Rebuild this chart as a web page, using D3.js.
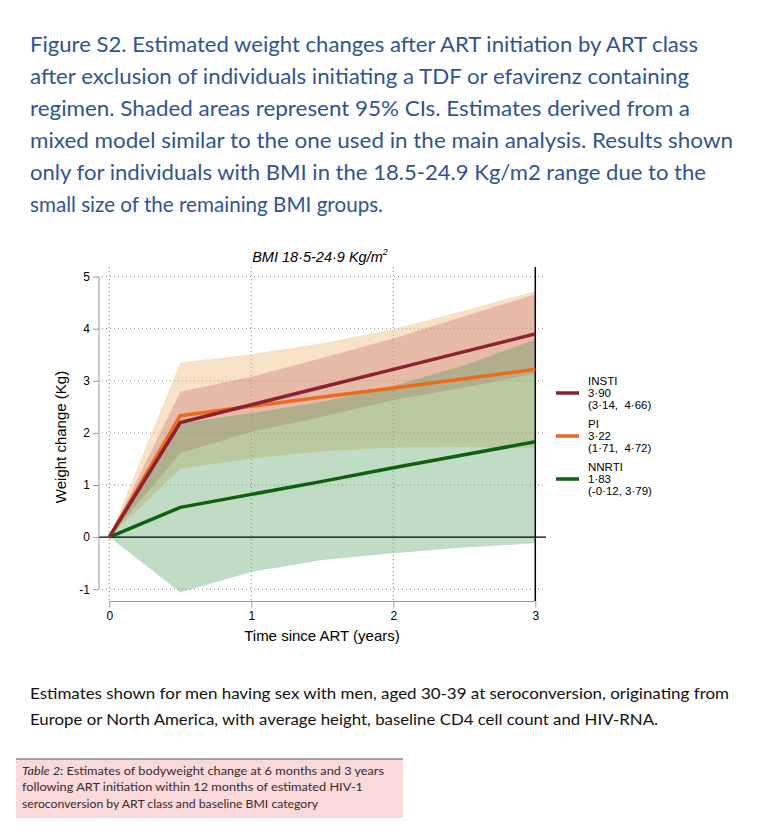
<!DOCTYPE html>
<html><head><meta charset="utf-8">
<script src="https://cdn.jsdelivr.net/npm/d3@7"></script>
<style>body{margin:0;background:#fff}svg{display:block}</style>
</head><body>
<svg id="c" width="760" height="832"></svg>
<script>
const times = [0, 0.5, 1, 1.5, 2, 2.5, 3];
const classes = ["INSTI", "PI", "NNRTI"];
const instiEst = [0, 2.20, 2.54, 2.88, 3.22, 3.56, 3.90];
const instiLo  = [0, 1.61, 2.02, 2.31, 2.63, 2.87, 3.14];
const instiHi  = [0, 2.79, 3.08, 3.44, 3.81, 4.24, 4.66];
const piEst = [0, 2.33, 2.51, 2.69, 2.86, 3.04, 3.22];
const piLo  = [0, 1.31, 1.51, 1.65, 1.72, 1.73, 1.71];
const piHi  = [0, 3.35, 3.51, 3.72, 3.99, 4.35, 4.72];
const nnrtiEst = [0, 0.57, 0.82, 1.07, 1.33, 1.58, 1.83];
const nnrtiLo  = [0, -1.06, -0.67, -0.44, -0.31, -0.20, -0.12];
const nnrtiHi  = [0, 2.18, 2.38, 2.60, 2.90, 3.30, 3.79];
const legendVals = ["3·90", "3·22", "1·83"];
const legendCIs = ["(3·14,  4·66)", "(1·71,  4·72)", "(-0·12, 3·79)"];
const yTicks = [-1, 0, 1, 2, 3, 4, 5];
const xTicks = [0, 1, 2, 3];
const titleLines = [
  "Figure S2. Estimated weight changes after ART initiation by ART class",
  "after exclusion of individuals initiating a TDF or efavirenz containing",
  "regimen. Shaded areas represent 95% CIs. Estimates derived from a",
  "mixed model similar to the one used in the main analysis. Results shown",
  "only for individuals with BMI in the 18.5-24.9 Kg/m2 range due to the",
  "small size of the remaining BMI groups."
];
const footLines = [
  "Estimates shown for men having sex with men, aged 30-39 at seroconversion, originating from",
  "Europe or North America, with average height, baseline CD4 cell count and HIV-RNA."
];
const tableLines = [
  "following ART initiation within 12 months of estimated HIV-1",
  "seroconversion by ART class and baseline BMI category"
];

const SANS = "'Liberation Sans', Arial, sans-serif";
const svg = d3.select("#c");
const x = d3.scaleLinear().domain([0, 3]).range([109.3, 535.3]);
const y = d3.scaleLinear().domain([-1, 5]).range([589.2, 276.6]);

// Title
const titleW = [668, 659, 660, 703, 676, 353];
svg.append("g").selectAll("text").data(titleLines).join("text")
  .attr("x", 30).attr("y", (d, i) => 52 + i * 32)
  .attr("textLength", (d, i) => titleW[i]).attr("lengthAdjust", "spacingAndGlyphs")
  .attr("font-family", "Lato, 'Open Sans', sans-serif").attr("font-size", 22)
  .attr("fill", "#2f5496").text(d => d);

// grid
const g = svg.append("g");
g.selectAll(".hg").data(yTicks.filter(d => d !== 0)).join("line")
  .attr("x1", 102).attr("x2", 545).attr("y1", d => y(d)).attr("y2", d => y(d))
  .attr("stroke", "#888").attr("stroke-width", 1).attr("stroke-dasharray", "1,3");
g.selectAll(".vg").data([0, 1, 2]).join("line")
  .attr("x1", d => x(d)).attr("x2", d => x(d)).attr("y1", 267).attr("y2", 601)
  .attr("stroke", "#888").attr("stroke-width", 1).attr("stroke-dasharray", "1,3");

// bands
const series = [
  {name: "PI", est: piEst, lo: piLo, hi: piHi, fill: "rgb(234,182,118)", op: 0.4, line: "#ec6a1b"},
  {name: "INSTI", est: instiEst, lo: instiLo, hi: instiHi, fill: "rgb(205,124,122)", op: 0.4, line: "#8b2232"},
  {name: "NNRTI", est: nnrtiEst, lo: nnrtiLo, hi: nnrtiHi, fill: "rgb(75,155,86)", op: 0.35, line: "#0f600f"}
];
const area = d3.area().x(d => x(d.t)).y0(d => y(d.lo)).y1(d => y(d.hi));
series.forEach(s => {
  const pts = times.map((t, i) => ({t, lo: s.lo[i], hi: s.hi[i]}));
  g.append("path").attr("d", area(pts)).attr("fill", s.fill).attr("fill-opacity", s.op);
});

// zero line and right line
g.append("line").attr("x1", 99).attr("x2", 546).attr("y1", y(0)).attr("y2", y(0)).attr("stroke", "#000").attr("stroke-width", 1.2);
g.append("line").attr("x1", x(3)).attr("x2", x(3)).attr("y1", 267).attr("y2", 601).attr("stroke", "#000").attr("stroke-width", 1.5);

// lines
const line = d3.line().x(d => x(d.t)).y(d => y(d.v));
["NNRTI", "PI", "INSTI"].forEach(n => {
  const s = series.find(q => q.name === n);
  g.append("path").attr("d", line(times.map((t, i) => ({t, v: s.est[i]}))))
    .attr("fill", "none").attr("stroke", s.line).attr("stroke-width", 3.5).attr("stroke-linejoin", "miter");
});

// axes
const ya = svg.append("g").attr("transform", "translate(99,0)")
  .call(d3.axisLeft(y).tickValues(yTicks).tickSize(6).tickPadding(3).tickFormat(d => String(d)));
ya.attr("font-size", 12).attr("font-family", SANS);
ya.select(".domain").attr("stroke", "#999").attr("d", `M0,${y(5)}V${y(-1)}`);
ya.selectAll(".tick line").attr("stroke", "#999");
ya.selectAll("text").style("font-size", "12px").style("font-family", SANS).attr("fill", "#000");

const xa = svg.append("g").attr("transform", "translate(0,601.5)")
  .call(d3.axisBottom(x).tickValues(xTicks).tickSize(6).tickPadding(4).tickFormat(d => String(d)));
xa.attr("font-size", 12).attr("font-family", SANS);
xa.select(".domain").attr("stroke", "#999").attr("d", `M${x(0)},0H${x(3)}`);
xa.selectAll(".tick line").attr("stroke", "#999");
xa.selectAll("text").style("font-size", "12px").style("font-family", SANS).attr("fill", "#000");

// axis titles
svg.append("text").attr("transform", "translate(66,437) rotate(-90)").attr("text-anchor", "middle")
  .style("font-family", SANS).style("font-size", "15px").text("Weight change (Kg)");
svg.append("text").attr("x", 322).attr("y", 641).attr("text-anchor", "middle")
  .style("font-family", SANS).style("font-size", "15px").text("Time since ART (years)");

// plot title
const pt = svg.append("text").attr("x", 320).attr("y", 262).attr("text-anchor", "middle")
  .style("font-family", SANS).style("font-size", "14.5px").attr("font-style", "italic");
pt.append("tspan").text("BMI 18·5-24·9 Kg/m");
pt.append("tspan").attr("dy", -7).style("font-size", "9px").text("2");

// legend
const lg = svg.append("g");
classes.forEach((c, i) => {
  const s = series.find(q => q.name === c);
  const yy = 393 + i * 43;
  lg.append("line").attr("x1", 556).attr("x2", 579).attr("y1", yy).attr("y2", yy)
    .attr("stroke", s.line).attr("stroke-width", 3.5);
  [c, legendVals[i], legendCIs[i]].forEach((txt, k) => {
    lg.append("text").style("font-family", SANS).style("font-size", "11.5px")
      .attr("x", 588).attr("y", yy - 8 + k * 12).attr("xml:space", "preserve").text(txt);
  });
});

// footnote
svg.append("g").selectAll("text").data(footLines).join("text")
  .attr("x", 30).attr("y", (d, i) => 699 + i * 26)
  .attr("textLength", (d, i) => [699, 628][i]).attr("lengthAdjust", "spacingAndGlyphs")
  .attr("font-family", "Lato, 'Open Sans', sans-serif").attr("font-size", 16).attr("fill", "#111").text(d => d);

// table caption box
svg.append("rect").attr("x", 16).attr("y", 759).attr("width", 387).attr("height", 59).attr("fill", "#f9d9da");
svg.append("line").attr("x1", 16).attr("x2", 403).attr("y1", 759).attr("y2", 759).attr("stroke", "#555").attr("stroke-width", 1);
const t1 = svg.append("text").attr("x", 22).attr("y", 775).attr("font-family", "Lato, 'Open Sans', sans-serif")
  .attr("font-size", 12).attr("fill", "#3a2a2a").attr("textLength", 362).attr("lengthAdjust", "spacingAndGlyphs");
t1.append("tspan").attr("font-style", "italic").text("Table 2");
t1.append("tspan").text(": Estimates of bodyweight change at 6 months and 3 years");
svg.append("g").selectAll("text").data(tableLines).join("text")
  .attr("x", 22).attr("y", (d, i) => 791 + i * 16.5)
  .attr("textLength", (d, i) => [341, 296][i]).attr("lengthAdjust", "spacingAndGlyphs")
  .attr("font-family", "Lato, 'Open Sans', sans-serif").attr("font-size", 12).attr("fill", "#3a2a2a").text(d => d);
</script>
</body></html>
